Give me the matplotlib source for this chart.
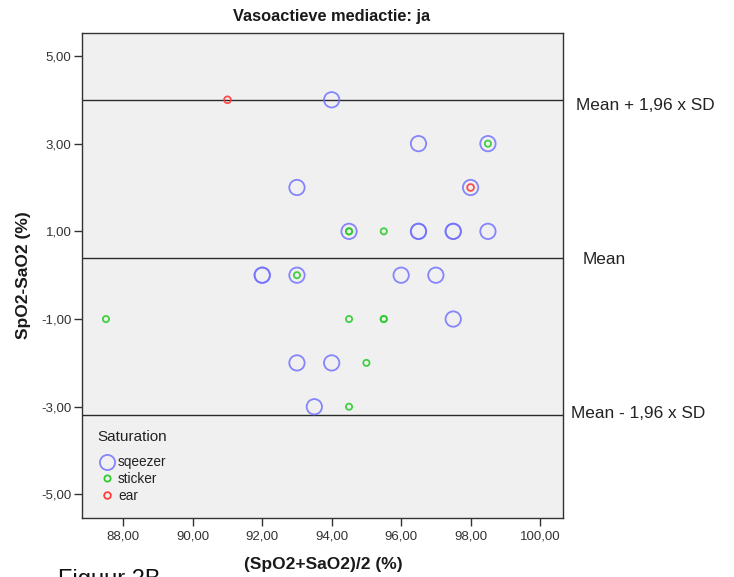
import matplotlib
matplotlib.use("Agg")
import matplotlib.pyplot as plt
from matplotlib.lines import Line2D
from matplotlib.transforms import offset_copy

# ---- data ----
sq_x = [94.0, 96.5, 98.5, 93.0, 98.0, 94.5, 96.5, 96.5, 97.5, 97.5, 98.5,
        92.0, 92.0, 93.0, 96.0, 97.0, 97.5, 93.0, 94.0, 93.5]
sq_y = [4, 3, 3, 2, 2, 1, 1, 1, 1, 1, 1,
        0, 0, 0, 0, 0, -1, -2, -2, -3]
st_x = [98.5, 94.5, 94.5, 95.5, 93.0, 87.5, 94.5, 95.5, 95.5, 95.0, 94.5]
st_y = [3, 1, 1, 1, 0, -1, -1, -1, -1, -2, -3]
ear_x = [91.0, 98.0]
ear_y = [4, 2]

mean_diff = 0.40
upper_loa = 3.99
lower_loa = -3.19
ref_labels = ["Mean + 1,96 x SD", "Mean", "Mean - 1,96 x SD"]
legend_labels = ["sqeezer", "sticker", "ear"]

x_ticks = [88, 90, 92, 94, 96, 98, 100]
y_ticks = [5, 3, 1, -1, -3, -5]

def fmt(v):
    return f"{v:.2f}".replace(".", ",")

plt.rcParams['font.family'] = ['Liberation Sans', 'DejaVu Sans']

W, H = 734, 577
fig = plt.figure(figsize=(W / 100, H / 100), dpi=100)
fig.patch.set_facecolor('white')
l, r, t, b = 82, 563.3, 32.7, 517.7
ax = fig.add_axes([l / W, 1 - b / H, (r - l) / W, (b - t) / H])
ax.set_facecolor('#f0f0f0')
ax.set_xlim(86.81, 100.67)
ax.set_ylim(-5.53, 5.53)

blue = '#7272ff'
green = '#2fcc2f'
red = '#ff3b3b'

ax.scatter(sq_x, sq_y, s=122, facecolors='none', edgecolors=blue,
           linewidths=1.3, alpha=0.85, zorder=3)
ax.scatter(st_x, st_y, s=20, facecolors='none', edgecolors=green,
           linewidths=1.3, alpha=0.9, zorder=4)
ax.scatter(ear_x, ear_y, s=24, facecolors='none', edgecolors=red,
           linewidths=1.3, alpha=0.9, zorder=4)

line_vals = [upper_loa, mean_diff, lower_loa]
for v in line_vals:
    ax.axhline(v, color='#2a2a2a', lw=1.0, zorder=2)

# labels for reference lines
trans = ax.get_yaxis_transform()
xfr = [(576 - l) / (r - l), (583 - l) / (r - l), (570.7 - l) / (r - l)]
offs = [-3.5, -1.5, 0.8]
for lab, v, xf, dy in zip(ref_labels, line_vals, xfr, offs):
    tr = offset_copy(trans, fig=fig, x=0, y=dy, units='points')
    ax.text(xf, v, lab, transform=tr, ha='left', va='center',
            fontsize=12.4, color='#222222', clip_on=False)

ax.set_xticks(x_ticks)
ax.set_xticklabels([fmt(v) for v in x_ticks])
ax.set_yticks(y_ticks)
ax.set_yticklabels([fmt(v) for v in y_ticks])
ax.tick_params(axis='both', length=5.5, width=1.0, color='#333333',
               labelsize=9.5, labelcolor='#333333')
ax.tick_params(axis='x', pad=4)
ax.tick_params(axis='y', pad=2)
for sp in ax.spines.values():
    sp.set_color('#333333')
    sp.set_linewidth(1.0)

fig.text(332 / W, 1 - 16.5 / H, "Vasoactieve mediactie: ja", ha='center',
         va='center', fontsize=11.8, fontweight='bold', color='#1a1a1a')
fig.text(323 / W, 1 - 565 / H, "(SpO2+SaO2)/2 (%)", ha='center', va='center',
         fontsize=12.5, fontweight='bold', color='#1a1a1a')
fig.text(24 / W, 1 - 275 / H, "SpO2-SaO2 (%)", ha='center', va='center',
         rotation=90, fontsize=12.5, fontweight='bold', color='#1a1a1a')
fig.text(58 / W, 1 - 569 / H, "Figuur 2B", ha='left', va='top',
         fontsize=17, color='#111111')

# legend
fig.text(97 / W, 1 - 437 / H, "Saturation", ha='left', va='center',
         fontsize=11, color='#222222')
handles = [
    Line2D([], [], ls='none', marker='o', markersize=10.9, markerfacecolor='none',
           markeredgecolor=blue, markeredgewidth=1.3, alpha=0.85),
    Line2D([], [], ls='none', marker='o', markersize=4.5, markerfacecolor='none',
           markeredgecolor=green, markeredgewidth=1.3),
    Line2D([], [], ls='none', marker='o', markersize=4.8, markerfacecolor='none',
           markeredgecolor=red, markeredgewidth=1.3),
]
leg = ax.legend(handles, legend_labels,
                loc='center left',
                bbox_to_anchor=((97 - l) / (r - l), (b - 479) / (b - t)),
                frameon=False, fontsize=9.8, handlelength=1.47,
                handletextpad=0.08, labelspacing=0.2, borderpad=0.0,
                borderaxespad=0.0)
for txt in leg.get_texts():
    txt.set_color('#222222')

fig.savefig('out.png', dpi=100)
